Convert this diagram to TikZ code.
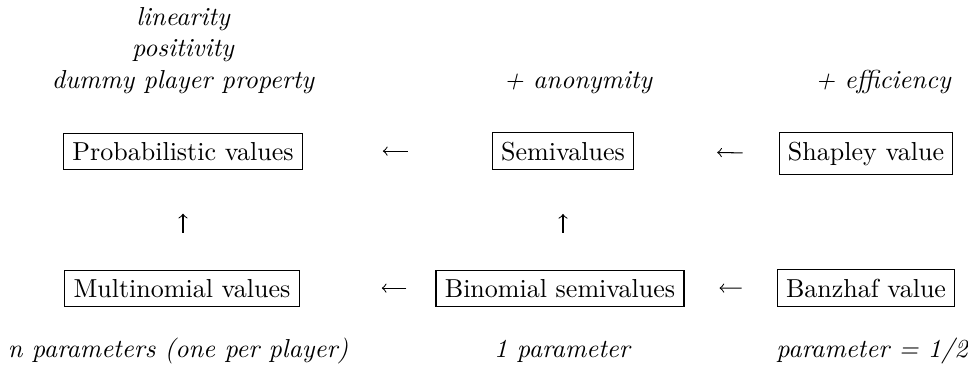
\documentclass[tikz,border=0pt]{standalone}
\begin{document}
\begin{tikzpicture}[x=0.3846pt,y=-0.3846pt,
		box/.style={draw, line width=0.4pt, inner sep=3.4pt, anchor=base},
		note/.style={font=\itshape, inner sep=0pt, anchor=base, align=center},
		larr/.style={-to, line width=0.4pt}]
	\useasboundingbox (0,0) rectangle (968,369);
	%
	\node[box] (pv) at (183,160) {Probabilistic values};
	\node[box] (sv) at (563,160) {Semivalues};
	\node[box] (sh) at (866,160) {Shapley value};
	\node[box] (mv) at (182,297) {Multinomial values};
	\node[box] (bs) at (560,297) {Binomial semivalues};
	\node[box] (bz) at (866,297) {Banzhaf value};
	%
	\node[note] (ax) at (183,88) {linearity\\positivity\\dummy player property};
	\node[note] (an) at (578,88) {+ anonymity};
	\node[note] (ef) at (883,88) {+ efficiency};
	\node[note] (np) at (178,357) {n parameters (one per player)};
	\node[note] (op) at (562,357) {1 parameter};
	\node[note] (hp) at (872,357) {parameter = 1/2};
	%
	\foreach \a/\b/\s/\e in {sv/pv/84/80, sh/sv/36/83, bs/mv/29/82, bz/bs/35/35}
		\draw[larr, shorten <=\s*0.3846pt, shorten >=\e*0.3846pt] (\a.west) -- (\b.east);
	\foreach \a/\b in {mv/pv, bs/sv}
		\draw[larr, shorten <=37*0.3846pt, shorten >=44*0.3846pt] (\a.north -| \b.south) -- (\b.south);
\end{tikzpicture}
\end{document}
